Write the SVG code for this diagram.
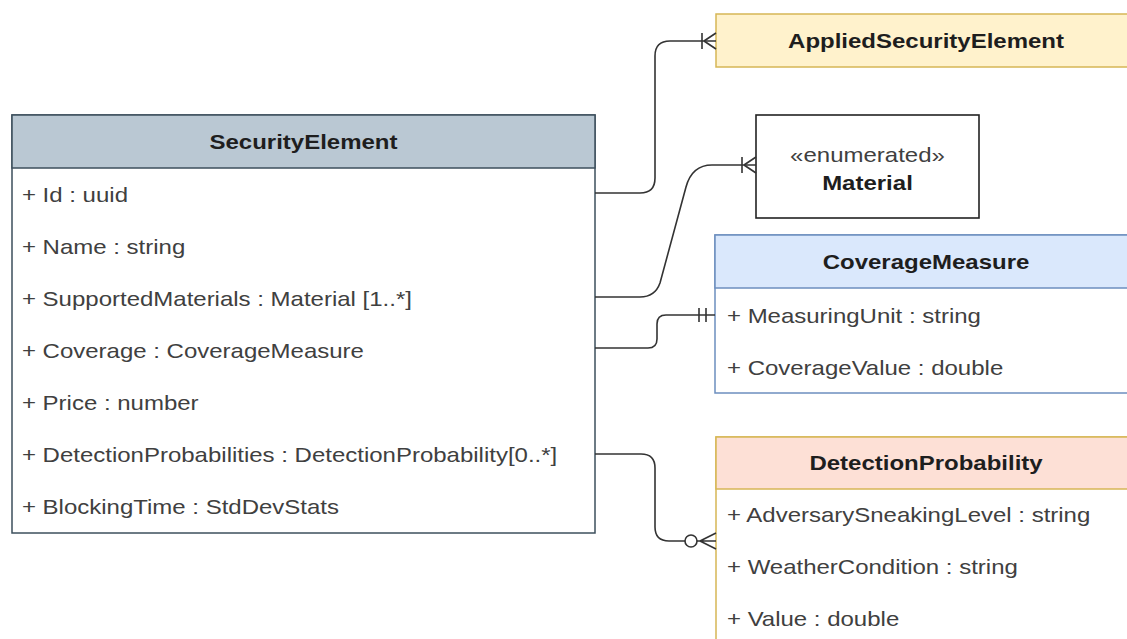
<svg xmlns="http://www.w3.org/2000/svg" width="1127" height="639" viewBox="0 0 1127 639">
<style>
text{font-family:"Liberation Sans",Arial,sans-serif;font-size:20px}
.h{font-weight:bold;fill:#1e1e1e;text-anchor:middle}
.a{fill:#404040}
.c{fill:none;stroke:#333;stroke-width:1.6}
</style>
<rect width="1127" height="639" fill="#fff"/>
<g id="SecurityElement">
<rect x="12" y="115" width="583" height="418" fill="#fff" stroke="#3d4f5c" stroke-width="1.5"/>
<rect x="12" y="115" width="583" height="53" fill="#bac8d3" stroke="#3d4f5c" stroke-width="1.5"/>
<g transform="scale(1.2 1)">
<text class="h" x="252.9" y="149">SecurityElement</text>
<text class="a" x="18.3" y="202">+ Id : uuid</text>
<text class="a" x="18.3" y="254">+ Name : string</text>
<text class="a" x="18.3" y="306">+ SupportedMaterials : Material [1..*]</text>
<text class="a" x="18.3" y="358">+ Coverage : CoverageMeasure</text>
<text class="a" x="18.3" y="410">+ Price : number</text>
<text class="a" x="18.3" y="462">+ DetectionProbabilities : DetectionProbability[0..*]</text>
<text class="a" x="18.3" y="514">+ BlockingTime : StdDevStats</text>
</g>
</g>
<g id="AppliedSecurityElement">
<rect x="716" y="14" width="430" height="53" fill="#fff2cc" stroke="#d6b656" stroke-width="1.5"/>
<g transform="scale(1.2 1)"><text class="h" x="771.7" y="48">AppliedSecurityElement</text></g>
</g>
<g id="Material">
<rect x="756" y="115" width="223" height="103" fill="#fff" stroke="#222" stroke-width="1.6"/>
<g transform="scale(1.2 1)">
<text class="a" x="722.9" y="162" text-anchor="middle">«enumerated»</text>
<text class="h" x="722.9" y="190">Material</text>
</g>
</g>
<g id="CoverageMeasure">
<rect x="715" y="235" width="430" height="158" fill="#fff" stroke="#6c8ebf" stroke-width="1.5"/>
<rect x="715" y="235" width="430" height="53" fill="#dae8fc" stroke="#6c8ebf" stroke-width="1.5"/>
<g transform="scale(1.2 1)">
<text class="h" x="771.7" y="269">CoverageMeasure</text>
<text class="a" x="605.8" y="323">+ MeasuringUnit : string</text>
<text class="a" x="605.8" y="375">+ CoverageValue : double</text>
</g>
</g>
<g id="DetectionProbability">
<rect x="716" y="437" width="430" height="220" fill="#fff" stroke="#d6b656" stroke-width="1.5"/>
<rect x="716" y="437" width="430" height="52" fill="#fde0d6" stroke="#d6b656" stroke-width="1.5"/>
<g transform="scale(1.2 1)">
<text class="h" x="771.7" y="470">DetectionProbability</text>
<text class="a" x="605.8" y="522">+ AdversarySneakingLevel : string</text>
<text class="a" x="605.8" y="574">+ WeatherCondition : string</text>
<text class="a" x="605.8" y="626">+ Value : double</text>
</g>
</g>
<g id="connectors">
<path class="c" d="M595,193 L640,193 Q655,193 655,178 L655,56 Q655,41 670,41 L716,41"/>
<path class="c" d="M702,33 L702,49 M704,41 L716,33 M704,41 L716,49"/>
<path class="c" d="M595,297 L640,297 Q655,297 660,283 L686,187 Q692,165 712,165 L756,165"/>
<path class="c" d="M742,157 L742,173 M744,165 L756,157 M744,165 L756,173"/>
<path class="c" d="M595,348 L648,348 Q657,348 657,339 L657,324 Q657,315 666,315 L715,315"/>
<path class="c" d="M699,308 L699,322 M706,308 L706,322"/>
<path class="c" d="M595,454 L641,454 Q655,454 655,468 L655,527 Q655,541 669,541 L685,541"/>
<circle class="c" cx="691" cy="541" r="6" fill="#fff"/>
<path class="c" d="M697,541 L716,541 M700,541 L716,533 M700,541 L716,549"/>
</g>
</svg>
